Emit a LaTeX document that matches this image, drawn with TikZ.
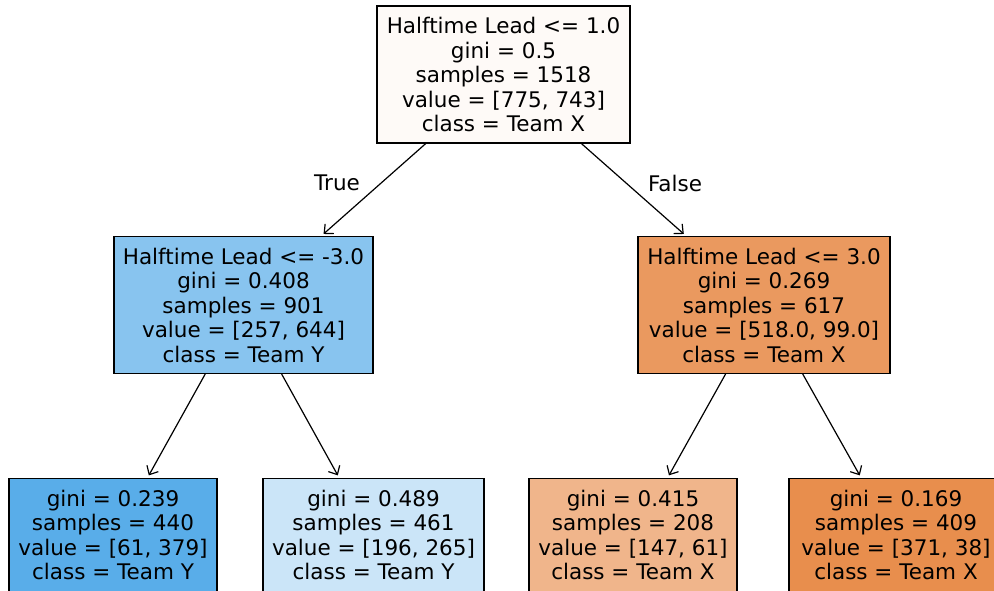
\documentclass[tikz,border=0pt]{standalone}
\usepackage{fontspec}
\setmainfont{DejaVu Sans}
\usetikzlibrary{arrows.meta}
\definecolor{rootfill}{RGB}{254,250,247}
\definecolor{bluemid}{RGB}{136,196,239}
\definecolor{orangemid}{RGB}{234,153,95}
\definecolor{bluedeep}{RGB}{89,173,233}
\definecolor{bluepale}{RGB}{203,229,248}
\definecolor{orangepale}{RGB}{240,181,139}
\definecolor{orangedeep}{RGB}{232,142,77}
\newcommand{\runoff}{\rule[-10pt]{0pt}{10pt}}

\begin{document}
\begin{tikzpicture}[
  x=1pt,y=-1pt,
  every node/.style={font=\fontsize{21.5}{24.5}\selectfont,align=center},
  split/.style={draw,line width=1.1pt,inner xsep=8pt,minimum height=137pt},
  leaf/.style={draw,line width=1.1pt,inner xsep=8pt,inner ysep=11.6pt,anchor=north},
  lbl/.style={inner sep=0pt},
  edge/.style={->,line width=1.2pt,shorten >=3pt},
  >={Straight Barb[length=7pt,width=13pt]}]
  \useasboundingbox (0,0) rectangle (994,591);
  \node[split,fill=rootfill,minimum width=253pt](root) at(503.5,74.5){Halftime Lead <= 1.0\\gini = 0.5\\samples = 1518\\value = [775, 743]\\class = Team X};
  \node[split,fill=bluemid,minimum width=259pt](lead) at(243.5,305){Halftime Lead <= -3.0\\gini = 0.408\\samples = 901\\value = [257, 644]\\class = Team Y};
  \node[split,fill=orangemid,minimum width=252pt](trail) at(764,305){Halftime Lead <= 3.0\\gini = 0.269\\samples = 617\\value = [518.0, 99.0]\\class = Team X};
  % bottom row runs past the lower edge
  \node[leaf,fill=bluedeep,minimum width=208pt](ll) at(113,478){gini = 0.239\\samples = 440\\value = [61, 379]\\class = Team Y\runoff};
  \node[leaf,fill=bluepale,minimum width=221pt](lr) at(373.5,478){gini = 0.489\\samples = 461\\value = [196, 265]\\class = Team Y\runoff};
  \node[leaf,fill=orangepale,minimum width=208pt](rl) at(633,478){gini = 0.415\\samples = 208\\value = [147, 61]\\class = Team X\runoff};
  \node[leaf,fill=orangedeep,minimum width=214pt](rr) at(896,478){gini = 0.169\\samples = 409\\value = [371, 38]\\class = Team X\runoff};
  \node[lbl](t) at(337,183){True};
  \node[lbl](f) at(675,183){False};
  \draw[edge](root)--(lead);
  \draw[edge](root)--(trail);
  \draw[edge](lead)--(ll);
  \draw[edge](lead)--(lr);
  \draw[edge](trail)--(rl);
  \draw[edge](trail)--(rr);
\end{tikzpicture}
\end{document}
